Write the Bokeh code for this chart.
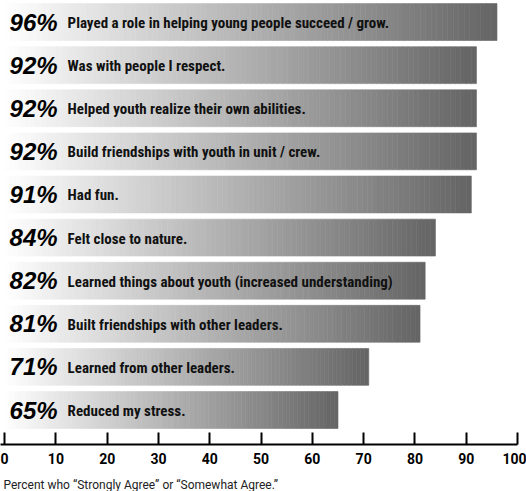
import numpy as np
from bokeh.plotting import figure
from bokeh.models import Range1d, ColumnDataSource, Title, FixedTicker
from bokeh.core.properties import value
from bokeh.embed import file_html
from bokeh.resources import INLINE

labels = [
    "Played a role in helping young people succeed / grow.",
    "Was with people I respect.",
    "Helped youth realize their own abilities.",
    "Build friendships with youth in unit / crew.",
    "Had fun.",
    "Felt close to nature.",
    "Learned things about youth (increased understanding)",
    "Built friendships with other leaders.",
    "Learned from other leaders.",
    "Reduced my stress.",
]
values = [96, 92, 92, 92, 91, 84, 82, 81, 71, 65]
pct_labels = [f"{v}%" for v in values]
ticks = [0, 10, 20, 30, 40, 50, 60, 70, 80, 90, 100]
caption = "Percent who \u201cStrongly Agree\u201d or \u201cSomewhat Agree.\u201d"

n = len(values)
ypos = [n - 1 - i for i in range(n)]

# gradient slices of each bar (white -> dark grey along the bar)
N = 90
lefts, rights, ys, colors = [], [], [], []
for v, y in zip(values, ypos):
    for k in range(N):
        lefts.append(v * k / N)
        rights.append(v * (k + 1) / N)
        ys.append(y)
        g = int(round(255 - (k + 0.5) / N * 155))
        colors.append(f"#{g:02x}{g:02x}{g:02x}")

seg = ColumnDataSource(dict(left=lefts, right=rights, y=ys, color=colors))
src = ColumnDataSource(dict(x=[0] * n, y=ypos, pct=pct_labels, label=labels))

p = figure(width=526, height=491,
           x_range=Range1d(-0.8, 100), y_range=Range1d(-0.80, 9.50),
           output_backend="svg", toolbar_location=None,
           min_border_left=0, min_border_right=9, min_border_top=0,
           min_border_bottom=44, outline_line_color=None)

p.hbar(y="y", left="left", right="right", height=0.856, fill_color="color",
       line_color="color", line_width=0.6, source=seg)

p.text(x="x", y="y", text="pct", source=src, x_offset=5,
       text_font=value("Liberation Sans"), text_font_style="bold italic",
       text_font_size="24px", text_baseline="middle", text_color="black")
p.text(x="x", y="y", text="label", source=src, x_offset=63, y_offset=1,
       text_font=value("Roboto Condensed, Roboto"), text_font_style="bold",
       text_font_size="15px", text_baseline="middle", text_color="#111111")

p.yaxis.visible = False
p.xgrid.visible = False
p.ygrid.visible = False
ax = p.xaxis[0]
ax.ticker = FixedTicker(ticks=ticks)
ax.major_tick_in = 12
ax.major_tick_out = 0
ax.minor_tick_line_color = None
ax.axis_line_width = 2
ax.major_tick_line_width = 2
ax.axis_line_color = "black"
ax.major_tick_line_color = "black"
ax.major_label_standoff = 8
ax.major_label_text_font = "Roboto"
ax.major_label_text_font_style = "bold"
ax.major_label_text_font_size = "14px"
ax.major_label_text_color = "black"
# invisible spacer label pushes the caption lower
ax.axis_label = "\u00a0"
ax.axis_label_text_font_size = "5px"
ax.axis_label_standoff = 0

p.add_layout(Title(text=caption, align="left", text_font="Roboto",
                   text_font_style="normal", text_font_size="12px",
                   text_color="#222222", standoff=0, offset=3), "below")

open("out.html", "w").write(file_html(p, INLINE))
